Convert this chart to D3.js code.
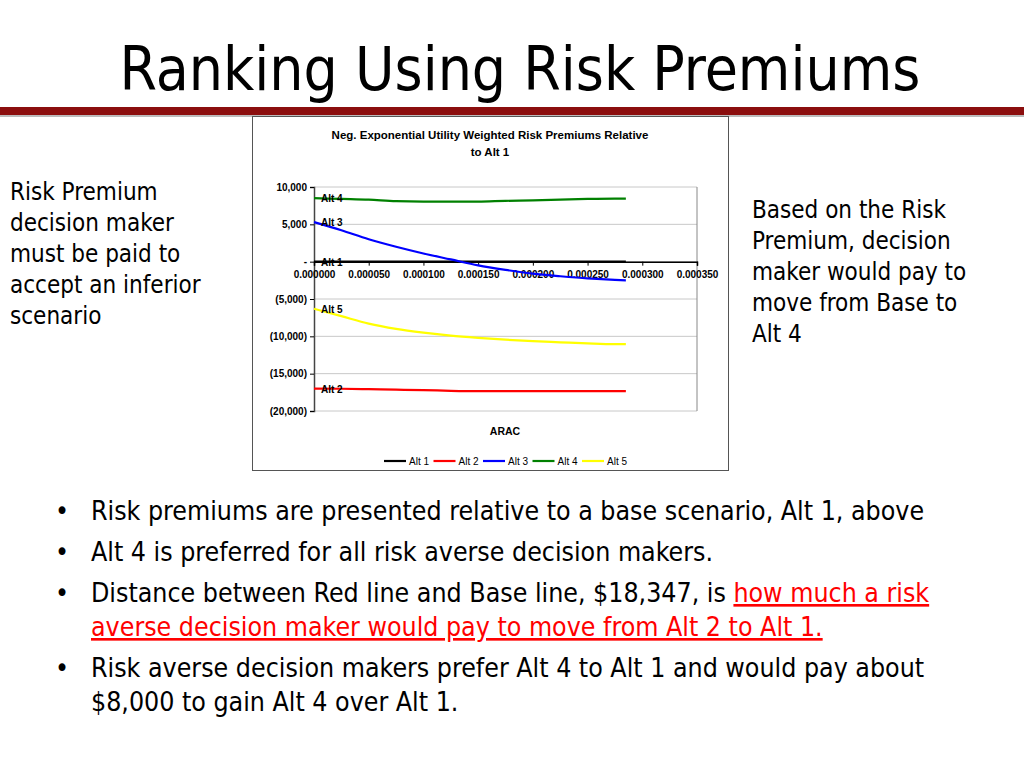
<!DOCTYPE html>
<html><head><meta charset="utf-8">
<script src="https://cdn.jsdelivr.net/npm/d3@7"></script>
<style>body{margin:0;background:#fff}</style>
</head><body>
<script>
var arac = [0, 0.000025, 0.00005, 0.000075, 0.0001, 0.000125, 0.00015, 0.000175, 0.0002, 0.000225, 0.00025, 0.000275, 0.000285];
var alt1 = [0, 0, 0, 0, 0, 0, 0, 0, 0, 0, 0, 0, 0];
var alt2 = [-17000, -17020, -17080, -17150, -17200, -17300, -17350, -17350, -17350, -17350, -17350, -17350, -17350];
var alt3 = [5300, 4200, 3000, 2000, 1100, 300, -500, -1100, -1600, -1950, -2250, -2450, -2500];
var alt4 = [8500, 8400, 8300, 8100, 8050, 8050, 8050, 8150, 8200, 8300, 8400, 8450, 8450];
var alt5 = [-6300, -7300, -8300, -9000, -9500, -9900, -10200, -10450, -10650, -10800, -10950, -11050, -11050];
var seriesNames = ["Alt 1", "Alt 2", "Alt 3", "Alt 4", "Alt 5"];
var seriesColors = ["#000000", "#ff0000", "#0000ff", "#008000", "#ffff00"];
var xTicks = [0, 0.00005, 0.0001, 0.00015, 0.0002, 0.00025, 0.0003, 0.00035];
var yTicks = [10000, 5000, 0, -5000, -10000, -15000, -20000];
var series = [alt1, alt2, alt3, alt4, alt5];

var svg = d3.select("body").append("svg").attr("width", 1024).attr("height", 768);
var font = "'DejaVu Sans Condensed', sans-serif";

svg.append("text").attr("x", 520).attr("y", 90).attr("text-anchor", "middle")
  .attr("font-family", font).attr("font-size", 60).text("Ranking Using Risk Premiums");
svg.append("rect").attr("x", 0).attr("y", 107).attr("width", 1024).attr("height", 8).attr("fill", "#8b0e0e");
svg.append("rect").attr("x", 0).attr("y", 115).attr("width", 1024).attr("height", 2).attr("fill", "#bbb");

// chart box
svg.append("rect").attr("x", 252.5).attr("y", 116.5).attr("width", 476).attr("height", 354)
  .attr("fill", "#fff").attr("stroke", "#555");
var cf = "Arial, 'Liberation Sans', sans-serif";
svg.append("text").attr("x", 490).attr("y", 139).attr("text-anchor", "middle").attr("font-family", cf)
  .attr("font-size", 11.5).attr("font-weight", "bold").text("Neg. Exponential Utility Weighted Risk Premiums Relative");
svg.append("text").attr("x", 490).attr("y", 156).attr("text-anchor", "middle").attr("font-family", cf)
  .attr("font-size", 11.5).attr("font-weight", "bold").text("to Alt 1");

var x = d3.scaleLinear().domain([0, 0.00035]).range([314, 697]);
var y = d3.scaleLinear().domain([-20000, 10000]).range([411, 187]);

svg.selectAll(".grid").data(yTicks).enter().append("line")
  .attr("x1", 314).attr("x2", 697).attr("y1", d => y(d)).attr("y2", d => y(d)).attr("stroke", "#c8c8c8");
svg.append("line").attr("x1", 697).attr("x2", 697).attr("y1", 187).attr("y2", 411).attr("stroke", "#888");

var fmt = function(d) {
  if (d === 0) return "-";
  var s = d3.format(",")(Math.abs(d));
  return d < 0 ? "(" + s + ")" : s;
};
var ya = svg.append("g").attr("transform", "translate(314,0)")
  .call(d3.axisLeft(y).tickValues(yTicks).tickFormat(fmt).tickSize(4));
ya.select(".domain").attr("stroke", "#444").attr("stroke-width", 1.5);
ya.selectAll("text").attr("font-family", cf).attr("font-size", 10).attr("font-weight", "bold");

var xa = svg.append("g").attr("transform", "translate(0," + y(0) + ")")
  .call(d3.axisBottom(x).tickValues(xTicks).tickFormat(d3.format(".6f")).tickSize(4));
xa.select(".domain").attr("stroke", "#000").attr("stroke-width", 1.5);
xa.selectAll("text").attr("font-family", cf).attr("font-size", 10).attr("font-weight", "bold").attr("dy", "0.9em");

var line = d3.line().x((d, i) => x(arac[i])).y(d => y(d)).curve(d3.curveMonotoneX);
series.forEach(function(s, k) {
  svg.append("path").datum(s).attr("d", line).attr("fill", "none")
    .attr("stroke", seriesColors[k]).attr("stroke-width", 2.2);
  svg.append("text").attr("x", x(arac[0]) + 7).attr("y", y(s[0]) + 4).attr("font-family", cf)
    .attr("font-size", 10).attr("font-weight", "bold").text(seriesNames[k]);
});

svg.append("text").attr("x", 505).attr("y", 435).attr("text-anchor", "middle").attr("font-family", cf)
  .attr("font-size", 10.5).attr("font-weight", "bold").text("ARAC");

var lg = svg.selectAll(".lg").data(seriesNames).enter().append("g")
  .attr("transform", (d, i) => "translate(" + (384 + i * 49.5) + ",461)");
lg.append("line").attr("x1", 0).attr("x2", 22).attr("stroke", (d, i) => seriesColors[i]).attr("stroke-width", 2.2);
lg.append("text").attr("x", 25).attr("y", 4).attr("font-family", cf).attr("font-size", 10).text(d => d);

// side notes
var sf = "'DejaVu Sans Condensed', sans-serif";
var leftNote = ["Risk Premium", "decision maker", "must be paid to", "accept an inferior", "scenario"];
var rightNote = ["Based on the Risk", "Premium, decision", "maker would pay to", "move from Base to", "Alt 4"];
svg.selectAll(".ln").data(leftNote).enter().append("text").attr("x", 10).attr("y", (d, i) => 200 + i * 31)
  .attr("font-family", sf).attr("font-size", 24).text(d => d);
svg.selectAll(".rn").data(rightNote).enter().append("text").attr("x", 752).attr("y", (d, i) => 218 + i * 31)
  .attr("font-family", sf).attr("font-size", 24).text(d => d);

// bullets
var bf = 26.5;
function bullet(yy) {
  svg.append("text").attr("x", 55).attr("y", yy).attr("font-family", sf).attr("font-size", bf).text("•");
}
function txt(xx, yy, parts) {
  var t = svg.append("text").attr("x", xx).attr("y", yy).attr("font-family", sf).attr("font-size", bf);
  parts.forEach(function(p) {
    t.append("tspan").attr("fill", p[1] ? "#ff0000" : "#000")
      .attr("text-decoration", p[1] ? "underline" : null).text(p[0]);
  });
}
bullet(520); txt(91, 520, [["Risk premiums are presented relative to a base scenario, Alt 1, above"]]);
bullet(561); txt(91, 561, [["Alt 4 is preferred for all risk averse decision makers."]]);
bullet(602); txt(91, 602, [["Distance between Red line and Base line, $18,347, is "], ["how much a risk", 1]]);
txt(91, 636, [["averse decision maker would pay to move from Alt 2 to Alt 1.", 1]]);
bullet(677); txt(91, 677, [["Risk averse decision makers prefer Alt 4 to Alt 1 and would pay about"]]);
txt(91, 711, [["$8,000 to gain Alt 4 over Alt 1."]]);
</script>
</body></html>
